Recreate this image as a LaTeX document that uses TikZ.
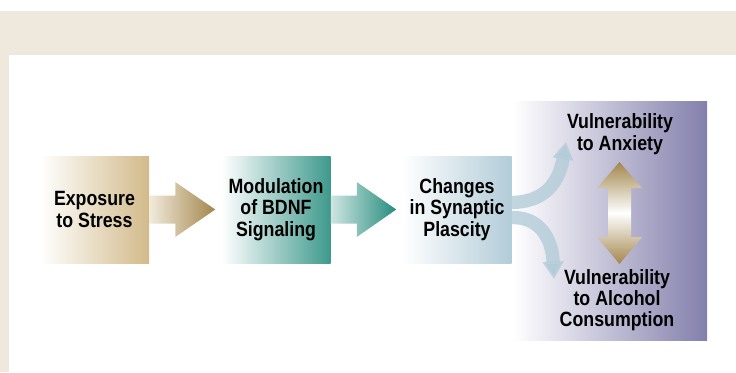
\documentclass[tikz,border=0pt]{standalone}
\usepackage{fontspec}
\setmainfont{Liberation Sans}[FakeStretch=0.86]
\usetikzlibrary{calc,arrows.meta}

\definecolor{beige}{RGB}{239,232,220}
\definecolor{tanbox}{RGB}{210,186,138}
\definecolor{tandark}{RGB}{163,134,76}
\definecolor{tealbox}{RGB}{62,153,140}
\definecolor{tealdark}{RGB}{38,141,126}
\definecolor{bluebox}{RGB}{178,204,216}
\definecolor{purplebox}{RGB}{131,127,172}

\tikzset{
  procbox/.style={inner sep=0pt, minimum width=81.75pt, minimum height=80.25pt,
    align=center, font=\bfseries\fontsize{15.5}{16}\selectfont},
  lbl/.style={inner sep=0pt, align=center, font=\bfseries\fontsize{15.5}{16}\selectfont},
  bendarrow/.style={draw=bluebox, draw opacity=0.8, line width=10pt,
    -{Triangle[width=15pt,length=13pt]}},
}

\begin{document}
\begin{tikzpicture}[x=0.75pt,y=0.75pt,yscale=-1,xscale=1]
	\useasboundingbox (0,0) rectangle (736,372);
	% frame
	\fill [beige] (0,11) rectangle (736,55);
	\fill [beige] (0,55) rectangle (9,372);
	% boxes
	\node [procbox, left color=white, right color=tanbox] (stress) at (94.5,209.5) {Exposure\\to Stress};
	\node [procbox, left color=white, right color=tealbox] (bdnf) at (276,209.5) {Modulation\\of BDNF\\Signaling};
	\node [procbox, left color=white, right color=bluebox] (change) at (457,209.5) {Changes\\in Synaptic\\Plascity};
	\node [inner sep=0pt, minimum width=145.5pt, minimum height=179.25pt, left color=white, right color=purplebox] (vuln) at (610,220.5) {};
	\node [lbl] (anx) at (620,134) {Vulnerability\\to Anxiety};
	\node [lbl] (alc) at (617,300) {Vulnerability\\to Alcohol\\Consumption};
	% fat arrows
	\shade [left color=tanbox!30, right color=tandark] ($(stress.east)+(0,-14)$) -- ($(stress.east)+(26,-14)$) -- ($(stress.east)+(26,-27.5)$) -- ($(bdnf.west)+(-6,0)$) -- ($(stress.east)+(26,27.5)$) -- ($(stress.east)+(26,14)$) -- ($(stress.east)+(0,14)$) -- cycle;
	\shade [left color=tealbox!25, right color=tealdark] ($(bdnf.east)+(0,-14)$) -- ($(bdnf.east)+(26,-14)$) -- ($(bdnf.east)+(26,-27.5)$) -- ($(change.west)+(-6,0)$) -- ($(bdnf.east)+(26,27.5)$) -- ($(bdnf.east)+(26,14)$) -- ($(bdnf.east)+(0,14)$) -- cycle;
	% split arrows
	\coordinate (uptip) at (566,142);
	\coordinate (downtip) at (554,279);
	\draw [bendarrow] ($(change.east)+(0,-7)$) .. controls (540,202) and (558,188) .. (uptip);
	\draw [bendarrow] ($(change.east)+(0,8)$) .. controls (538,217) and (552,236) .. (downtip);
	% double arrow
	\coordinate (dtop) at (619.5,162);
	\coordinate (dbot) at (619.5,264);
	\shade [top color=tandark, bottom color=tandark, middle color=white] (dtop) -- ($(dtop)+(22.5,26)$) -- ($(dtop)+(11.5,26)$) -- ($(dbot)+(11.5,-27)$) -- ($(dbot)+(22.5,-27)$) -- (dbot) -- ($(dbot)+(-22.5,-27)$) -- ($(dbot)+(-11.5,-27)$) -- ($(dtop)+(-11.5,26)$) -- ($(dtop)+(-22.5,26)$) -- cycle;
\end{tikzpicture}
\end{document}
